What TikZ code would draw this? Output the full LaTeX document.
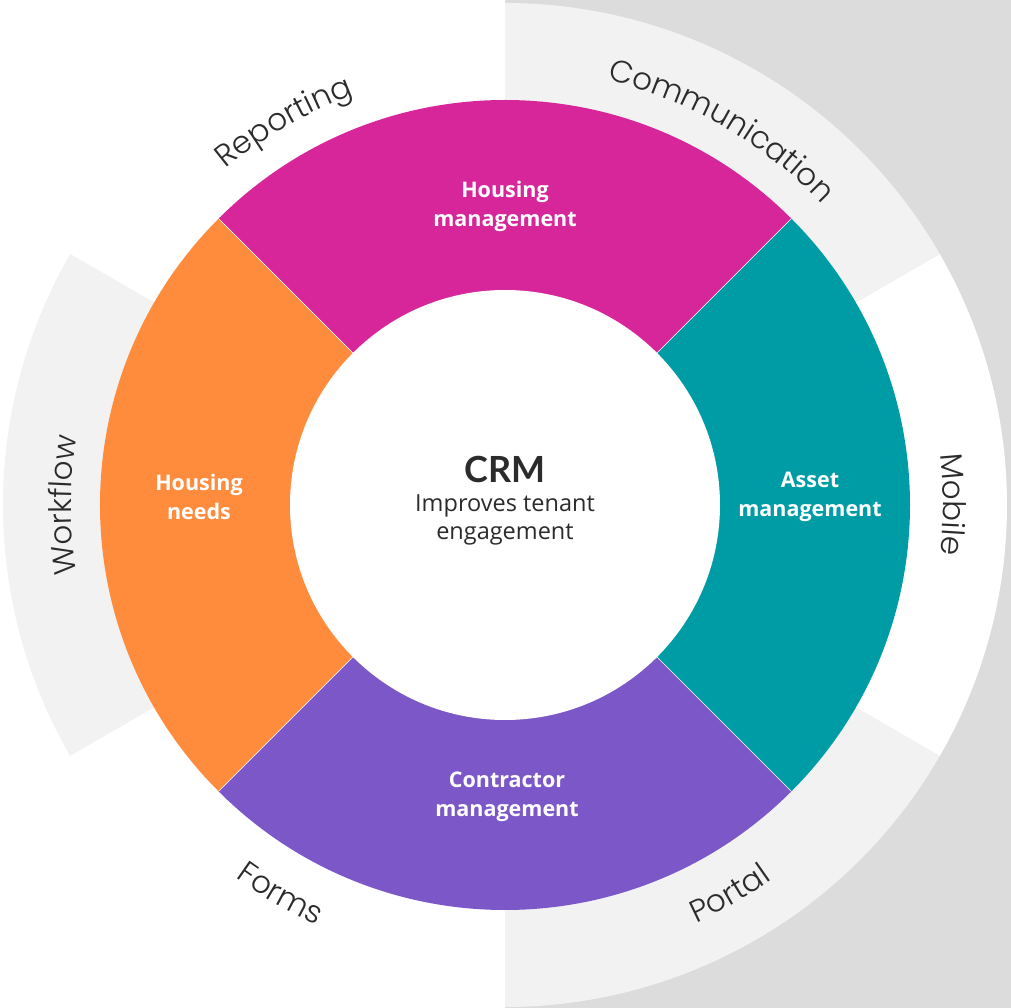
\documentclass[tikz,border=0pt]{standalone}
\usepackage{fontspec}
\setmainfont{Open Sans}
\newfontfamily\titlefont{Lato}
\newfontfamily\ringfont{Poppins Light}
\usetikzlibrary{decorations.text}

\definecolor{bggrey}{HTML}{DCDCDC}
\definecolor{ringgrey}{HTML}{F2F2F2}
\definecolor{hmcol}{HTML}{D6269A}
\definecolor{amcol}{HTML}{009CA6}
\definecolor{cmcol}{HTML}{7B57C8}
\definecolor{hncol}{HTML}{FF8B3D}
\definecolor{inkcol}{HTML}{2B2B2B}

\newcommand\ringlabel{\ringfont\fontsize{31}{31}\selectfont\color{inkcol}}

\tikzset{
  seglabel/.style={text=white, align=center, font=\bfseries\fontsize{21.5}{29}\selectfont},
  toplabel/.style={decorate, decoration={text along path, text align=center, text={|\ringlabel|#1}}},
}

\begin{document}
\begin{tikzpicture}[x=1pt,y=1pt]
\useasboundingbox (-505,-503) rectangle (506,505);
\fill[white] (-505,-503) rectangle (506,505);
% grey panel behind the right half
\fill[bggrey] (0,-503) rectangle (506,505);

% outer ring of six 60-degree sectors
\foreach \a/\c in {-30/white,30/ringgrey,90/white,150/ringgrey,210/white,270/ringgrey}
  \fill[\c] (0,0) -- (\a:502) arc[start angle=\a, end angle=\a+60, radius=502] -- cycle;

% coloured ring of four quarters
\fill[hmcol] (0,0) -- (45:405) arc[start angle=45, end angle=135, radius=405] -- cycle;
\fill[hncol] (0,0) -- (135:405) arc[start angle=135, end angle=225, radius=405] -- cycle;
\fill[cmcol] (0,0) -- (225:405) arc[start angle=225, end angle=315, radius=405] -- cycle;
\fill[amcol] (0,0) -- (-45:405) arc[start angle=-45, end angle=45, radius=405] -- cycle;
\foreach \a in {45,135,225,315}
  \draw[white, line width=0.5] (\a:215) -- (\a:405);
\fill[white] (0,0) circle[radius=215];

% centre text
\node[anchor=base, font=\titlefont\bfseries\fontsize{36}{36}\selectfont, text=inkcol] (crm) at (0,22) {CRM};
\node[anchor=base, font=\fontsize{23.5}{23.5}\selectfont, text=inkcol] (sub1) at (0,-7) {Improves tenant};
\node[anchor=base, font=\fontsize{23.5}{23.5}\selectfont, text=inkcol] (sub2) at (0,-35) {engagement};

% quarter labels
\node[seglabel] (hm) at (0,299) {Housing\\management};
\node[seglabel] (am) at (305,8) {Asset\\management};
\node[seglabel] (hn) at (-306,8) {Housing\\needs};
\node[seglabel] (cm) at (2,-292) {Contractor\\management};

% outer ring labels following the circle
\path[toplabel=Communication] (90:437) arc[start angle=90, end angle=30, radius=437];
\path[toplabel=Reporting] (150:437) arc[start angle=150, end angle=90, radius=437];
\path[toplabel=Mobile] (30:438) arc[start angle=30, end angle=-30, radius=438];
\path[toplabel=Workflow] (210:434) arc[start angle=210, end angle=150, radius=434];
\path[toplabel=Portal] (-90:460) arc[start angle=-90, end angle=-30, radius=460];
\path[toplabel=Forms] (-150:460) arc[start angle=-150, end angle=-90, radius=460];
\end{tikzpicture}
\end{document}
